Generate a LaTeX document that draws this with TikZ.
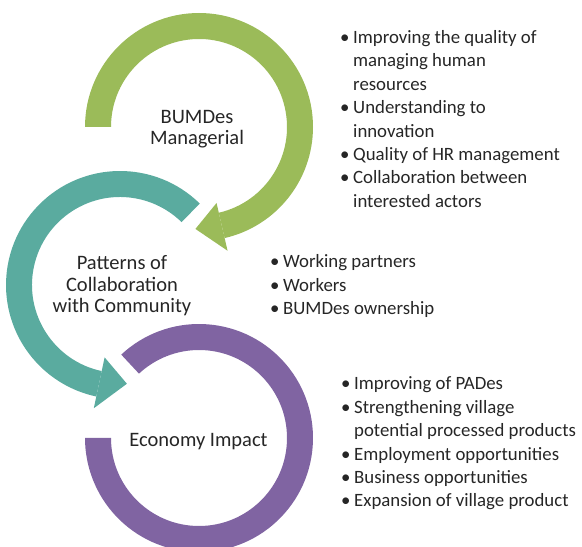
\documentclass[tikz,border=0pt]{standalone}
\usepackage{fontspec}
\setmainfont{Carlito}
\usetikzlibrary{calc}
\definecolor{ringgreen}{HTML}{9BBB59}
\definecolor{ringteal}{HTML}{5AAB9F}
\definecolor{ringpurple}{HTML}{8064A2}
\definecolor{inktext}{HTML}{262626}
\newcommand{\bul}{\makebox[13pt][l]{\textbullet}}
\begin{document}
\begin{tikzpicture}[x=1pt,y=1pt,
  ringlabel/.style={align=center, text=inktext, inner sep=0pt,
    font=\fontsize{20.5}{21.5}\selectfont},
  bulletlist/.style={anchor=base west, text=inktext, inner sep=0pt,
    font=\fontsize{18.8}{23.4}\selectfont}]
\useasboundingbox (0,0) rectangle (582,547);
\clip (0,0) rectangle (582,547);

% ring centres
\coordinate (cg) at (199,420);
\coordinate (ct) at (120,262);
\coordinate (cp) at (199,109);

% green ring with arrowhead at the bottom, pointing left
\fill[ringgreen] ($(cg)+(180:114)$) arc[start angle=180,end angle=-77,radius=114]
  -- ($(cg)+(-77:88)$) arc[start angle=-77,end angle=180,radius=88] -- cycle;
\fill[ringgreen] ($(cg)+(-77:78)$) -- ($(cg)+(-92:102)$) -- ($(cg)+(-77:127)$) -- cycle;

% teal ring with arrowhead at the bottom, pointing right
\fill[ringteal] ($(ct)+(45.6:114)$) arc[start angle=45.6,end angle=258,radius=114]
  -- ($(ct)+(258:88)$) arc[start angle=258,end angle=45.6,radius=88] -- cycle;
\fill[ringteal] ($(ct)+(258:74)$) -- ($(ct)+(274:99)$) -- ($(ct)+(258:126)$) -- cycle;

% purple ring, no arrowhead
\fill[ringpurple] ($(cp)+(133:114)$) arc[start angle=133,end angle=-180,radius=114]
  -- ($(cp)+(180:88)$) arc[start angle=-180,end angle=133,radius=88] -- cycle;

% ring labels
\node[ringlabel] (managerial) at (197,418) {BUMDes\\Managerial};
\node[ringlabel] (patterns) at (122,261) {Patterns of\\Collaboration\\with Community};
\node[ringlabel] (economy) at (198.5,105) {Economy Impact};

% bullet lists
\node[bulletlist] (listmanage) at (340,503.5) {\begin{tabular}[t]{@{}l@{}l@{}}
\bul & Improving the quality of\\
 & managing human\\
 & resources\\
\bul & Understanding to\\
 & innovation\\
\bul & Quality of HR management\\
\bul & Collaboration between\\
 & interested actors
\end{tabular}};

\node[bulletlist] (listcollab) at (270,279.3) {\begin{tabular}[t]{@{}l@{}l@{}}
\bul & Working partners\\
\bul & Workers\\
\bul & BUMDes ownership
\end{tabular}};

\node[bulletlist] (listimpact) at (341,157) {\begin{tabular}[t]{@{}l@{}l@{}}
\bul & Improving of PADes\\
\bul & Strengthening village\\
 & potential processed products\\
\bul & Employment opportunities\\
\bul & Business opportunities\\
\bul & Expansion of village product
\end{tabular}};
\end{tikzpicture}
\end{document}
